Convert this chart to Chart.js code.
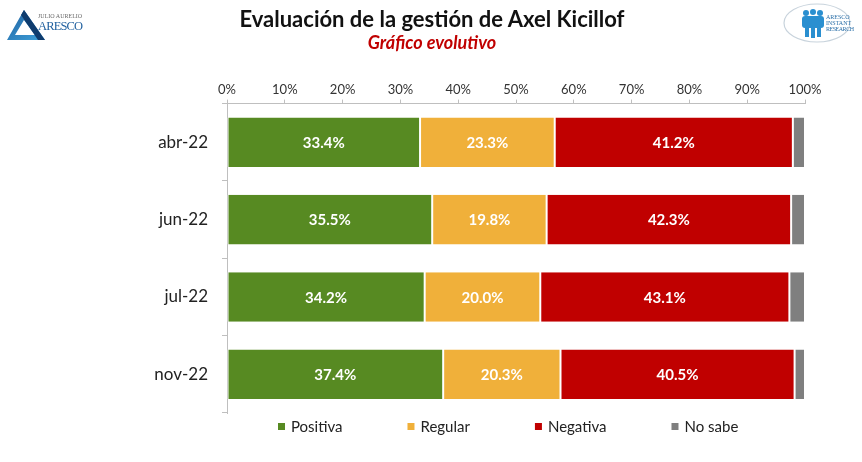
<!DOCTYPE html>
<html>
<head>
<meta charset="utf-8">
<script src="https://cdn.jsdelivr.net/npm/chart.js@4.4.0/dist/chart.umd.min.js"></script>
<style>
  html, body { margin: 0; padding: 0; background: #fff; }
  .wrap { position: relative; width: 862px; height: 462px; font-family: Lato, "Open Sans", sans-serif; }
  #chart { position: absolute; left: 0; top: 0; }
  .logo { position: absolute; top: 0; }
  .title { position: absolute; left: 0; width: 864px; text-align: center; font-weight: bold; }
  .t1 { top: 7.5px; font-size: 22px; line-height: 22px; color: #111; }
  .t2 { top: 33px; font-size: 18px; line-height: 18px; color: #c00000; font-style: italic; }
</style>
</head>
<body>
<div class="wrap">
  <canvas id="chart" width="862" height="462"></canvas>
  <div class="title t1">Evaluación de la gestión de Axel Kicillof</div>
  <div class="title t2">Gráfico evolutivo</div>
  <!-- left logo -->
  <svg class="logo" style="left:0" width="100" height="50">
    <defs>
      <linearGradient id="tri" x1="0" y1="0" x2="1" y2="1">
        <stop offset="0" stop-color="#1f5f9e"/>
        <stop offset="1" stop-color="#3fa3dc"/>
      </linearGradient>
    </defs>
    <path d="M24 10 L7 40 L45 40 Z M24 20 L15 35 L35 35 Z" fill="url(#tri)" fill-rule="evenodd"/>
    <path d="M24 10 L45 40 L38 40 L21 15 Z" fill="#0f3c6e"/>
    <text x="38" y="18" font-family="Liberation Serif" font-size="6" fill="#6a6a6a">JULIO AURELIO</text>
    <text x="38" y="30" font-family="Liberation Serif" font-size="12.5" fill="#1f5f9e" textLength="45">ARESCO</text>
  </svg>
  <!-- right logo -->
  <svg class="logo" style="left:770px" width="92" height="50">
    <ellipse cx="47" cy="23" rx="33" ry="19" fill="none" stroke="#c8d3dc" stroke-width="1.2"/>
    <g fill="#2a8fd0">
      <circle cx="36" cy="13" r="3"/><circle cx="43" cy="12" r="3"/><circle cx="50" cy="13" r="3"/>
      <rect x="32" y="16" width="22" height="12" rx="3"/>
      <rect x="35" y="27" width="4" height="10"/><rect x="41" y="27" width="4" height="11"/><rect x="47" y="27" width="4" height="10"/>
    </g>
    <text x="56" y="19" font-family="Liberation Serif" font-size="6" fill="#2a6fa8">ARESCO</text>
    <text x="56" y="25" font-family="Liberation Serif" font-size="6" fill="#2a6fa8">INSTANT</text>
    <text x="56" y="31" font-family="Liberation Serif" font-size="6" fill="#2a6fa8" textLength="28">RESEARCH</text>
  </svg>
</div>
<script>
const categories = ["abr-22", "jun-22", "jul-22", "nov-22"];
const positiva = [33.4, 35.5, 34.2, 37.4];
const regular = [23.3, 19.8, 20.0, 20.3];
const negativa = [41.2, 42.3, 43.1, 40.5];
const noSabe = [2.1, 2.4, 2.7, 1.8];
const xTicks = [0, 10, 20, 30, 40, 50, 60, 70, 80, 90, 100];

const FONT = "Lato, 'Open Sans', sans-serif";

// white value labels inside the bars (no sabe is left unlabeled)
const barLabels = {
  id: "barLabels",
  afterDatasetsDraw(chart) {
    const { ctx } = chart;
    ctx.save();
    ctx.fillStyle = "#ffffff";
    ctx.font = `bold 15px ${FONT}`;
    ctx.textAlign = "center";
    ctx.textBaseline = "middle";
    chart.data.datasets.forEach((ds, i) => {
      if (!ds.showValue) return;
      chart.getDatasetMeta(i).data.forEach((bar, j) => {
        const c = bar.getCenterPoint();
        ctx.fillText(ds.data[j].toFixed(1) + "%", c.x, c.y + 1);
      });
    });
    ctx.restore();
  },
};

// legend row under the plot, like the excel one
const legendRow = {
  id: "legendRow",
  afterDraw(chart) {
    const { ctx, chartArea } = chart;
    let x = chartArea.left + 51;
    const y = 427;
    ctx.save();
    ctx.font = `15px ${FONT}`;
    ctx.textBaseline = "middle";
    chart.data.datasets.forEach((ds) => {
      ctx.fillStyle = ds.backgroundColor;
      ctx.fillRect(x, y - 4, 7, 7);
      ctx.fillStyle = "#222";
      ctx.fillText(ds.label, x + 13, y);
      x += 13 + ctx.measureText(ds.label).width + 65;
    });
    ctx.restore();
  },
};

const mk = (label, data, color, showValue) => ({
  label,
  data,
  backgroundColor: color,
  borderColor: "#ffffff",
  borderWidth: { left: 1, right: 1, top: 0, bottom: 0 },
  borderSkipped: false,
  barPercentage: 0.8,
  categoryPercentage: 0.8,
  showValue,
});

new Chart(document.getElementById("chart"), {
  type: "bar",
  data: {
    labels: categories,
    datasets: [
      mk("Positiva", positiva, "#578a22", true),
      mk("Regular", regular, "#f0b03a", true),
      mk("Negativa", negativa, "#c00000", true),
      mk("No sabe", noSabe, "#7f7f7f", false),
    ],
  },
  options: {
    responsive: false,
    animation: false,
    indexAxis: "y",
    layout: {
      padding: { top: 80, right: 57, bottom: 49, left: 0 },
    },
    plugins: {
      legend: { display: false },
      tooltip: { enabled: false },
    },
    scales: {
      x: {
        position: "top",
        stacked: true,
        min: 0,
        max: 100,
        afterBuildTicks(scale) {
          scale.ticks = xTicks.map((v) => ({ value: v }));
        },
        ticks: {
          color: "#333",
          font: { family: FONT, size: 13 },
          padding: 2,
          maxRotation: 0,
          callback: (v) => v + "%",
        },
        grid: {
          drawOnChartArea: false,
          drawTicks: true,
          tickLength: 4,
          color: "#bfbfbf",
        },
        border: { color: "#bfbfbf" },
      },
      y: {
        stacked: true,
        afterFit(scale) {
          scale.width = 227;
        },
        ticks: {
          color: "#222",
          font: { family: FONT, size: 17 },
          padding: 14,
        },
        grid: {
          offset: true,
          drawOnChartArea: false,
          tickLength: 5,
          color: "#bfbfbf",
        },
        border: { color: "#bfbfbf" },
      },
    },
  },
  plugins: [barLabels, legendRow],
});
</script>
</body>
</html>
